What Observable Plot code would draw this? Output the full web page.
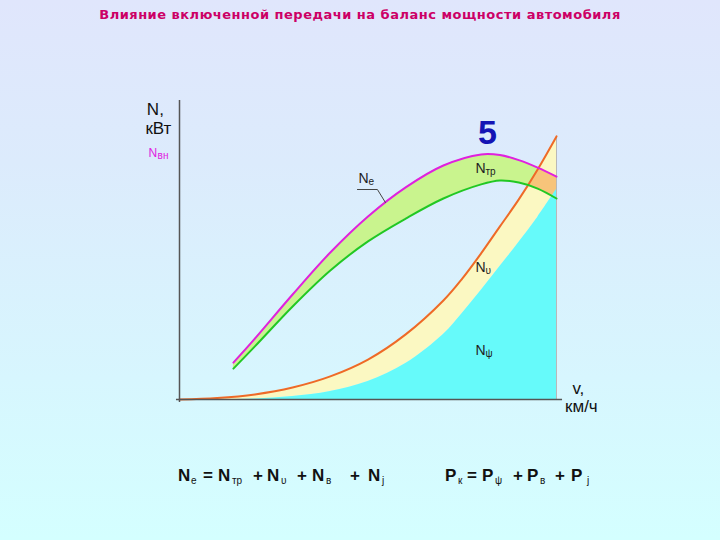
<!DOCTYPE html>
<html><head><meta charset="utf-8">
<script src="https://cdn.jsdelivr.net/npm/d3@7"></script>
<script src="https://cdn.jsdelivr.net/npm/@observablehq/plot@0.6"></script>
<style>
html,body{margin:0;padding:0;width:720px;height:540px;overflow:hidden;}
body{background:linear-gradient(to bottom,#e0e6fc 0%,#dcebfc 30%,#d7f6fe 70%,#d4ffff 100%);font-family:"Liberation Sans",Arial,sans-serif;}
#title{height:30px;line-height:30px;text-align:center;font-weight:bold;font-size:13px;letter-spacing:0.5px;color:#cc0066;font-family:"DejaVu Sans",sans-serif;}
#chart svg{display:block;}
#formulas{position:relative;height:70px;color:#111;}
#formulas span{position:absolute;white-space:pre;}
#formulas .m{font-weight:bold;font-size:17px;line-height:17px;top:-3px;}
#formulas .s{font-size:10px;line-height:10px;top:6px;}
</style></head>
<body>
<div id="title">Влияние включенной передачи на баланс мощности автомобиля</div>
<div id="chart"></div>
<div id="formulas"></div>
<script>
// speed grid for the engine / transmission band
const vBand = [14.3, 20, 30, 40, 50, 60, 70, 80, 85, 90, 95, 100];
const Ne    = [12.3, 20.3, 35, 49, 61, 70.7, 78, 81.7, 81.5, 79.8, 77.3, 74.3];
const Ntr   = [10.3, 17.7, 31, 43, 52.7, 60.3, 67, 71.7, 73, 72.3, 70.3, 67];
// speed grid for the resistance powers
const vRes  = [0, 10, 20, 30, 40, 50, 60, 70, 75, 80, 85, 90, 95, 100];
const Nv    = [0, 0.5, 1.7, 4, 7.7, 13.3, 21.7, 33, 40.3, 48.7, 57.7, 66.7, 76.7, 87.7];
const Npsi  = [0, 0, 0.2, 1, 2.7, 6, 12, 21.7, 28.7, 36.3, 44.3, 52.3, 60.7, 70];

// curve labels (anchor in data units)
const curveLabels = [
  {v: 47.5, n: 73.7, main: "N", sub: "е"},
  {v: 78.5, n: 77,   main: "N", sub: "тр"},
  {v: 78.5, n: 44,   main: "N", sub: "υ"},
  {v: 78.5, n: 16.3, main: "N", sub: "ψ"}
];
const neLeader = [{v: 47.2, n: 70}, {v: 52.5, n: 70}, {v: 54.6, n: 65.7}];
const axisLabels = [
  {v: -6.4, n: 96.7, text: "N,"},
  {v: -5.6, n: 90.3, text: "кВт"},
  {v: 105.8, n: 3.7, text: "v,"},
  {v: 106.6, n: -2.3, text: "км/ч"}
];
const nvnLabel = [{v: -8.2, n: 82.2, main: "N", sub: "вн"}];
const gearLabel = [{v: 81.7, n: 88.8, text: "5"}];

// formulas: [text, left px, subscript?]
const formulaTokens = [
  ["N", 178, 0], ["е", 191, 1], ["=", 203, 0], ["N", 218, 0], ["тр", 232, 1], ["+", 253, 0],
  ["N", 267, 0], ["υ", 281, 1], ["+", 297, 0], ["N", 312, 0], ["в", 326, 1], ["+", 350, 0],
  ["N", 368, 0], ["j", 382, 1],
  ["P", 445, 0], ["к", 458, 1], ["=", 467, 0], ["P", 482, 0], ["ψ", 495, 1], ["+", 513, 0],
  ["P", 527, 0], ["в", 540, 1], ["+", 555, 0], ["P", 571, 0], ["j", 587, 1]
];
const fdiv = document.getElementById("formulas");
for (const [t, left, sub] of formulaTokens) {
  const s = document.createElement("span");
  s.className = sub ? "s" : "m";
  s.style.left = left + "px";
  s.textContent = t;
  fdiv.appendChild(s);
}

const band = vBand.map((v, i) => ({v, ne: Ne[i], ntr: Ntr[i]}));
const res = vRes.map((v, i) => ({v, nu: Nv[i], psi: Npsi[i]}));
const curve = "catmull-rom";
const font = "Liberation Sans, Arial, sans-serif";
const overlapFill = "#f7c47a";

const svg = Plot.plot({
  width: 720, height: 440,
  marginLeft: 179, marginRight: 164, marginTop: 69, marginBottom: 71,
  x: {domain: [0, 100], axis: null},
  y: {domain: [0, 100], axis: null},
  style: {background: "transparent", fontFamily: font},
  marks: [
    Plot.areaY(res, {x: "v", y1: "psi", y2: "nu", fill: "#fbf8c2", curve}),
    Plot.areaY(band, {x: "v", y1: "ntr", y2: "ne", fill: "#c9f48e", curve}),
    Plot.areaY(band, {x: "v", y1: "ntr", y2: "ne", fill: overlapFill, curve, ariaDescription: "overlap"}),
    Plot.areaY(res, {x: "v", y: "psi", fill: "#66fafa", curve}),
    Plot.ruleX([vRes[vRes.length - 1]], {y1: 0, y2: Nv[Nv.length - 1], stroke: "#b8b8b8", strokeWidth: 1}),
    Plot.line(res, {x: "v", y: "nu", stroke: "#ee6a28", strokeWidth: 2, curve}),
    Plot.line(band, {x: "v", y: "ntr", stroke: "#22c822", strokeWidth: 2, curve}),
    Plot.line(band, {x: "v", y: "ne", stroke: "#e020e0", strokeWidth: 2, curve}),
    Plot.ruleX([0], {y1: -1, y2: 99.7, stroke: "#555", strokeWidth: 1.5}),
    Plot.ruleY([0], {x1: -0.8, x2: 101.6, stroke: "#555", strokeWidth: 1.5}),
    Plot.line(neLeader, {x: "v", y: "n", stroke: "#444", strokeWidth: 1}),
    Plot.text(curveLabels, {x: "v", y: "n", text: "main", textAnchor: "start", fontSize: 14, fill: "#222"}),
    Plot.text(curveLabels, {x: "v", y: "n", text: "sub", textAnchor: "start", dx: 10, dy: 3.5, fontSize: 10, fill: "#222"}),
    Plot.text(nvnLabel, {x: "v", y: "n", text: "main", textAnchor: "start", fontSize: 12, fill: "#e020e0"}),
    Plot.text(nvnLabel, {x: "v", y: "n", text: "sub", textAnchor: "start", dx: 9, dy: 2.5, fontSize: 10, fill: "#e020e0"}),
    Plot.text(axisLabels, {x: "v", y: "n", text: "text", fontSize: 17, fill: "#111"}),
    Plot.text(gearLabel, {x: "v", y: "n", text: "text", fontSize: 34, fontWeight: "bold", fill: "#1414b4"})
  ]
});

// clip the overlap band to the region under the N_upsilon curve, built from Plot's own scales
try {
  const sx = svg.scale("x"), sy = svg.scale("y");
  const fx = sx.apply ? (d) => sx.apply(d) : d3.scaleLinear(sx.domain, sx.range);
  const fy = sy.apply ? (d) => sy.apply(d) : d3.scaleLinear(sy.domain, sy.range);
  const under = d3.area().curve(d3.curveCatmullRom)
    .x(d => fx(d.v)).y0(fy(0)).y1(d => fy(d.nu))(res);
  const ns = "http://www.w3.org/2000/svg";
  const defs = document.createElementNS(ns, "defs");
  const cp = document.createElementNS(ns, "clipPath");
  cp.setAttribute("id", "under-nu");
  const cpPath = document.createElementNS(ns, "path");
  cpPath.setAttribute("d", under);
  cp.appendChild(cpPath);
  defs.appendChild(cp);
  svg.insertBefore(defs, svg.firstChild);
  let target = svg.querySelector('[aria-description="overlap"]');
  if (!target) {
    for (const el of svg.querySelectorAll("g, path")) {
      if ((el.getAttribute("fill") || "").toLowerCase() === overlapFill) { target = el; break; }
    }
  }
  if (target) target.setAttribute("clip-path", "url(#under-nu)");
} catch (e) { console.error(e); }

document.getElementById("chart").appendChild(svg);
</script>
</body></html>
